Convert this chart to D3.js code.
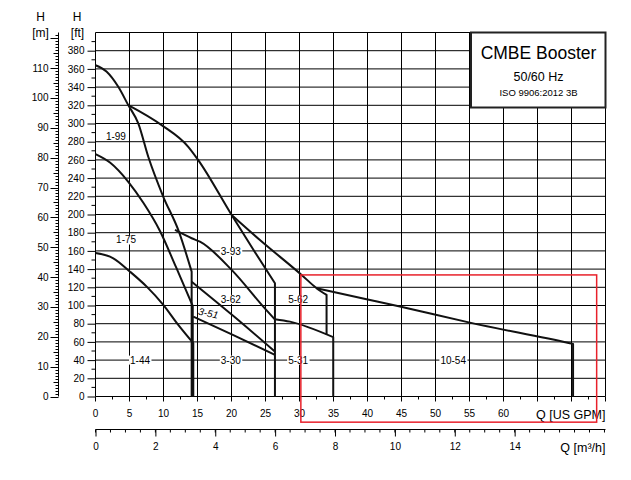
<!DOCTYPE html>
<html>
<head>
<meta charset="utf-8">
<script src="https://cdn.jsdelivr.net/npm/d3@7"></script>
<style>
  body { margin: 0; background: #fff; }
  svg { font-family: "Liberation Sans", Arial, sans-serif; }
</style>
</head>
<body>
<svg id="chart" width="631" height="480"></svg>
<script>
// pump curves, [Q US GPM, H ft]
const curve199 = [[0, 364], [1.65, 356.8], [3.35, 340.3], [4.82, 320.2], [6.29, 300.1], [7.76, 263.4], [9.97, 219.5], [12.17, 183], [14.14, 137.2], [14.14, 0]];
const curve175 = [[0, 266.4], [2.13, 257.1], [4.85, 235.7], [7.06, 212.6], [9.48, 181.9], [11.83, 142.4], [14.3, 99.6], [14.3, 0]];
const curve144 = [[0, 157.7], [2.62, 151.9], [5.07, 137.2], [7.53, 120.7], [9.97, 100.7], [12.17, 78.7], [14.38, 58.6], [14.38, 0]];
const curve393 = [[4.82, 320.2], [9.73, 298.2], [13.64, 274.4], [15.11, 259.8], [20.02, 199.5], [23.2, 161.5], [26.39, 124.5], [26.39, 0]];
const curve362 = [[11.69, 183], [14.14, 173.9], [15.36, 170.1], [20.02, 139.1], [24.67, 98.8], [26.39, 84.5]];
const curve351 = [[14.14, 126.2], [20.2, 89], [26.39, 49.4]];
const curve330 = [[14.38, 87.8], [20.2, 67.7], [26.39, 45.8]];
const curve562 = [[20.02, 199.5], [24.18, 172], [30.31, 133.6], [32.52, 119], [33.98, 111.6], [33.98, 67.5]];
const curve531 = [[26.39, 85], [28.59, 82.3], [34.96, 65.2], [34.96, 0]];
const curve1054 = [[32.52, 119], [39.86, 106.9], [44.76, 98.8], [55.05, 81.2], [69.75, 58.6], [70.23, 57.8], [70.23, 0]];

const curves = [curve199, curve175, curve144, curve393, curve362, curve351, curve330, curve562, curve531, curve1054];

// curve labels: name, Q, H
const labelNames = ["1-99", "1-75", "1-44", "3-93", "3-62", "3-51", "3-30", "5-62", "5-31", "10-54"];
const labelQ = [3.0, 4.5, 6.55, 19.9, 19.9, 16.6, 19.9, 29.8, 29.8, 52.6];
const labelH = [286, 172, 40, 159, 106.7, 91.5, 40, 106.7, 40, 40];

// axis ticks
const ftLabels = d3.range(0, 400, 20);
const ftMinor = d3.range(10, 400, 20);
const mLabels = d3.range(0, 120, 10);
const gpmLabels = d3.range(0, 65, 5);
const gpmTicks = d3.range(0, 75.1, 2.5);
const m3Labels = d3.range(0, 16, 2);
const m3Ticks = d3.range(0, 17.01, 0.5);

// highlighted region (Q GPM, H ft)
const boxQ = [30.2, 73.7];
const boxH = [133.6, -28.2];

const svg = d3.select("#chart");

const x = d3.scaleLinear().domain([0, 75]).range([95.5, 605.5]);
const y = d3.scaleLinear().domain([0, 400]).range([396.5, 32.5]);
const yM = d3.scaleLinear().domain([0, 400 * 0.3048]).range([396.5, 32.5]);
const xM = d3.scaleLinear().domain([0, 75 / 4.4029]).range([95.5, 605.5]);

// grid
const grid = svg.append("g").attr("stroke", "#000").attr("stroke-width", 1);
grid.selectAll(".h").data(d3.range(0, 401, 20)).enter().append("line")
    .attr("x1", x(0)).attr("x2", x(75))
    .attr("y1", d => y(d)).attr("y2", d => y(d));
grid.selectAll(".v").data(d3.range(0, 76, 5)).enter().append("line")
    .attr("x1", d => x(d)).attr("x2", d => x(d))
    .attr("y1", y(0)).attr("y2", y(400));

// ft axis
const ftAxis = d3.axisLeft(y).tickValues(ftLabels).tickSize(8).tickPadding(3);
const gFt = svg.append("g").attr("transform", `translate(${x(0)},0)`).call(ftAxis);
gFt.select(".domain").remove();
gFt.selectAll("text").style("font-size", "10px").attr("fill", "#000");
svg.append("g").selectAll("line").data(ftMinor).enter().append("line")
    .attr("x1", x(0) - 4).attr("x2", x(0))
    .attr("y1", d => y(d)).attr("y2", d => y(d))
    .attr("stroke", "#000");

// meter axis
const mAxisX = 58.5;
svg.append("line").attr("x1", mAxisX).attr("x2", mAxisX)
    .attr("y1", yM(0)).attr("y2", 32.5).attr("stroke", "#000");
svg.append("g").selectAll("line").data(d3.range(0, 122, 1)).enter().append("line")
    .attr("x1", d => mAxisX - (d % 10 === 0 ? 8 : d % 5 === 0 ? 5 : 3)).attr("x2", mAxisX)
    .attr("y1", d => Math.round(yM(d)) + 0.5).attr("y2", d => Math.round(yM(d)) + 0.5)
    .attr("stroke", "#000");
svg.append("g").selectAll("text").data(mLabels).enter().append("text")
    .attr("x", 48.5).attr("y", d => yM(d))
    .attr("text-anchor", "end").attr("dominant-baseline", "central")
    .style("font-size", "10px").text(d => d);

// headers
const head = svg.append("g").style("font-size", "12px").attr("text-anchor", "middle");
head.append("text").attr("x", 40.5).attr("y", 21).text("H");
head.append("text").attr("x", 40.5).attr("y", 37).text("[m]");
head.append("text").attr("x", 77).attr("y", 21).text("H");
head.append("text").attr("x", 77.5).attr("y", 37).text("[ft]");

// GPM axis
svg.append("g").selectAll("line").data(gpmTicks).enter().append("line")
    .attr("x1", d => x(d)).attr("x2", d => x(d))
    .attr("y1", y(0)).attr("y2", d => y(0) + (d % 5 === 0 ? 5 : 3))
    .attr("stroke", "#000");
svg.append("g").selectAll("text").data(gpmLabels).enter().append("text")
    .attr("x", d => x(d)).attr("y", 413.5)
    .attr("text-anchor", "middle").attr("dominant-baseline", "central")
    .style("font-size", "10px").text(d => d);
svg.append("text").attr("x", 605.5).attr("y", 418.5).attr("text-anchor", "end")
    .style("font-size", "12.5px").text("Q [US GPM]");

// m3/h axis
const m3Y = 429.5;
const m3Axis = d3.axisBottom(xM).tickValues(m3Labels).tickSize(7).tickPadding(6);
const gM3 = svg.append("g").attr("transform", `translate(0,${m3Y})`).call(m3Axis);
gM3.select(".domain").remove();
gM3.selectAll("text").style("font-size", "10px").attr("fill", "#000");
svg.append("line").attr("x1", xM(0)).attr("x2", x(75)).attr("y1", m3Y).attr("y2", m3Y).attr("stroke", "#000");
svg.append("g").selectAll("line").data(m3Ticks).enter().append("line")
    .attr("x1", d => xM(d)).attr("x2", d => xM(d))
    .attr("y1", m3Y).attr("y2", m3Y + 3)
    .attr("stroke", "#000");
svg.append("text").attr("x", 605.5).attr("y", 451.5).attr("text-anchor", "end")
    .style("font-size", "12.5px").text("Q [m³/h]");

// curve labels with white background
const labels = svg.append("g").style("font-size", "10px");
labelNames.forEach((name, i) => {
    const g = labels.append("g");
    const t = g.append("text")
        .attr("x", x(labelQ[i])).attr("y", y(labelH[i]))
        .attr("text-anchor", "middle").attr("dominant-baseline", "central")
        .text(name);
    if (name === "3-51") {
        t.style("font-style", "italic")
            .attr("transform", `rotate(12,${x(labelQ[i])},${y(labelH[i])})`);
        return;
    }
    const bb = t.node().getBBox();
    g.insert("rect", "text")
        .attr("x", bb.x - 1).attr("y", bb.y + 1)
        .attr("width", bb.width + 2).attr("height", bb.height - 2)
        .attr("fill", "#fff");
});

// curves: smooth part, then the straight drop at max flow
const smooth = d3.line().x(d => x(d[0])).y(d => y(d[1])).curve(d3.curveMonotoneX);
const curvePath = pts => {
    const n = pts.length;
    const hasDrop = n > 2 && pts[n - 1][0] === pts[n - 2][0];
    const body = hasDrop ? pts.slice(0, n - 1) : pts;
    let d = smooth(body);
    if (hasDrop) d += `L${x(pts[n - 1][0])},${y(pts[n - 1][1])}`;
    return d;
};
svg.append("g").selectAll("path").data(curves).enter().append("path")
    .attr("d", curvePath)
    .attr("fill", "none")
    .attr("stroke", "#111")
    .attr("stroke-width", 2)
    .attr("stroke-linejoin", "round");

// title box
svg.append("rect").attr("x", 471).attr("y", 32.5).attr("width", 134.5).attr("height", 75)
    .attr("fill", "#fff").attr("stroke", "#222").attr("stroke-width", 2);
const title = svg.append("g").attr("text-anchor", "middle");
title.append("text").attr("x", 538.5).attr("y", 59).style("font-size", "17.5px").text("CMBE Booster");
title.append("text").attr("x", 538.5).attr("y", 80.5).style("font-size", "12.5px").text("50/60 Hz");
title.append("text").attr("x", 538.5).attr("y", 96).style("font-size", "9.5px").text("ISO 9906:2012 3B");

// red region
svg.append("rect")
    .attr("x", x(boxQ[0])).attr("y", y(boxH[0]))
    .attr("width", x(boxQ[1]) - x(boxQ[0])).attr("height", y(boxH[1]) - y(boxH[0]))
    .attr("fill", "none").attr("stroke", "#e8212b").attr("stroke-width", 1.5);
</script>
</body>
</html>
